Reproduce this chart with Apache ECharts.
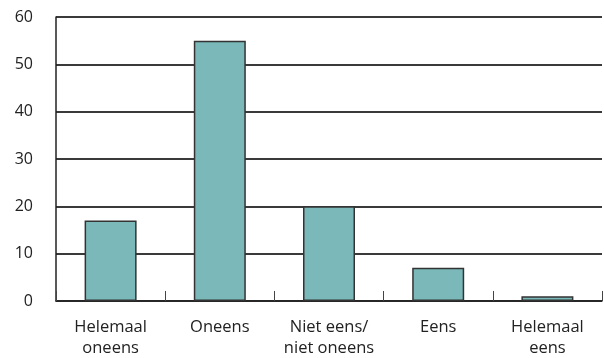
<!DOCTYPE html>
<html>
<head>
<meta charset="utf-8">
<script src="https://cdn.jsdelivr.net/npm/echarts@6/dist/echarts.min.js"></script>
<style>
  html, body { margin: 0; padding: 0; background: #fff; }
  #chart { width: 604px; height: 358px; }
</style>
</head>
<body>
<div id="chart"></div>
<script>
// categorieën en waarden (%)
var categories = ['Helemaal\noneens', 'Oneens', 'Niet eens/\nniet oneens', 'Eens', 'Helemaal\neens']
var values = [17, 55, 20, 7, 1]
var yTicks = [0, 10, 20, 30, 40, 50, 60]

var chart = echarts.init(document.getElementById('chart'))
chart.setOption({
  animation: false,
  grid: { left: 56, right: 2, top: 17, bottom: 57, outerBoundsMode: 'none' },
  xAxis: {
    type: 'category',
    data: categories,
    axisLine: { lineStyle: { color: '#222', width: 1.5 } },
    axisTick: { show: true, inside: true, length: 10, lineStyle: { color: '#444' } },
    axisLabel: {
      color: '#222', fontFamily: 'Open Sans', fontSize: 16.5,
      lineHeight: 21, margin: 16, interval: 0
    }
  },
  yAxis: {
    type: 'value',
    min: yTicks[0],
    max: yTicks[yTicks.length - 1],
    interval: 10,
    axisLine: { show: true, lineStyle: { color: '#222', width: 1.5 } },
    axisTick: { show: false },
    axisLabel: { color: '#222', fontFamily: 'Open Sans', fontSize: 16, margin: 23 },
    splitLine: { lineStyle: { color: '#3a3a3a', width: 1.8 } }
  },
  series: [{
    type: 'bar',
    data: values,
    barWidth: 52,
    itemStyle: { color: '#7ab8b9', borderColor: '#333', borderWidth: 1.5 }
  }]
})
</script>
</body>
</html>
